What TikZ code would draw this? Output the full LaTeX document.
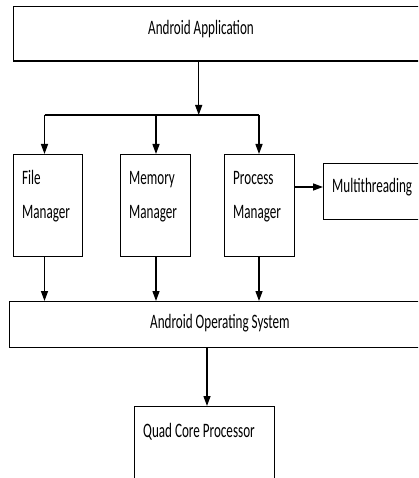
\documentclass[tikz,border=0pt]{standalone}
\usepackage{fontspec}
\setmainfont{Carlito}[FakeStretch=0.64]
\usetikzlibrary{arrows.meta}
\begin{document}
\begin{tikzpicture}[x=1pt,y=-1pt,
  box/.style={draw,line width=1.3pt,inner sep=0pt,rectangle,anchor=north west},
  txt/.style={anchor=base west,inner sep=0pt,font=\fontsize{20.5}{33.5}\selectfont,align=left},
  arr/.style={line width=1.3pt,-{Triangle[length=10pt,width=7pt]}},
  ln/.style={line width=1.3pt}]
\clip (0,0) rectangle (418,478);
\useasboundingbox (0,0) rectangle (418,478);
% boxes
\node[box,minimum width=420pt,minimum height=54.5pt] (app) at (13,6) {};
\node[box,minimum width=69pt,minimum height=102pt] (fm) at (13,154) {};
\node[box,minimum width=70pt,minimum height=102pt] (mm) at (120,154) {};
\node[box,minimum width=70pt,minimum height=102pt] (pm) at (223.5,154) {};
\node[box,minimum width=110pt,minimum height=55.5pt] (mt) at (323,163) {};
\node[box,minimum width=420pt,minimum height=46pt] (os) at (8.5,301) {};
\node[box,minimum width=140pt,minimum height=100pt] (qc) at (134,406) {};
% texts (base anchor = baseline of the last line)
\node[txt] (tapp) at (148,35) {Android Application};
\node[txt] (tfm) at (22,218.5) {File\\Manager};
\node[txt] (tmm) at (129,218) {Memory\\Manager};
\node[txt] (tpm) at (233,218) {Process\\Manager};
\node[txt] (tmt) at (332,192.5) {Multithreading};
\node[txt] (tos) at (150,328) {Android Operating System};
\node[txt] (tqc) at (143,437) {Quad Core Processor};
% connectors
\coordinate (split) at (198.7,115);
\coordinate (c1) at (44.5,115);
\coordinate (c2) at (156,115);
\coordinate (c3) at (259,115);
\coordinate (mty) at (0,187);
\coordinate (osq) at (207,0);
\draw[arr] (app.south -| split) -- (split);
\draw[ln] (c1) -- (c3);
\draw[arr] (c1) -- (c1 |- fm.north);
\draw[arr] (c2) -- (c2 |- mm.north);
\draw[arr] (c3) -- (c3 |- pm.north);
\draw[arr] (c1 |- fm.south) -- (c1 |- os.north);
\draw[arr] (c2 |- mm.south) -- (c2 |- os.north);
\draw[arr] (c3 |- pm.south) -- (c3 |- os.north);
\draw[arr] (pm.east |- mty) -- (mt.west |- mty);
\draw[arr] (os.south -| osq) -- (qc.north -| osq);
\end{tikzpicture}
\end{document}
